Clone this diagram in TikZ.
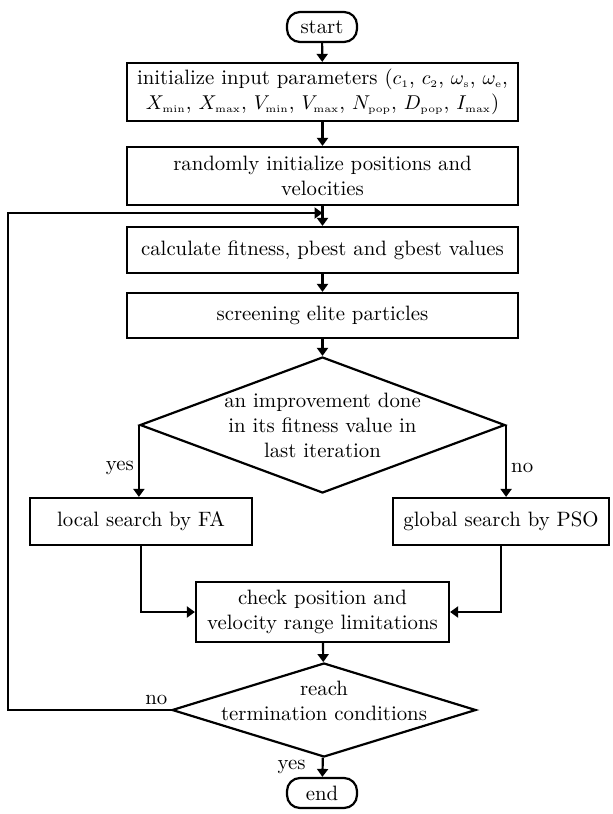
\documentclass[tikz,border=0pt]{standalone}
\usepackage{amsmath}
\usepackage{amssymb}
\usepackage{tikz}
\usetikzlibrary{shapes.geometric,arrows.meta}

% small upright subscripts as in the parameter list
\newcommand{\lowsub}[1]{_{\scriptscriptstyle\mathrm{#1}}}

\tikzset{
  box/.style={draw,line width=1.1pt,align=center,inner sep=2pt},
  term/.style={box,rounded corners=6.5pt,minimum width=35pt,minimum height=15pt},
  test/.style={draw,diamond,line width=1.1pt,align=center,inner sep=-20pt},
  flow/.style={line width=1.1pt,-{Triangle[length=4pt,width=5.5pt]}},
  tag/.style={inner sep=2pt}
}

\begin{document}
\begin{tikzpicture}[x=0.5pt,y=-0.5pt,font=\fontsize{10.4}{12.5}\selectfont]
\useasboundingbox (0,0) rectangle (612,814);

\node[term] (start) at (322,27) {start};
\node[box,minimum width=195.5pt,minimum height=29pt] (init) at (322.5,92)
  {initialize input parameters ($c\lowsub{1}$, $c\lowsub{2}$, $\omega\lowsub{s}$, $\omega\lowsub{e}$,\\
   $X\lowsub{min}$, $X\lowsub{max}$, $V\lowsub{min}$, $V\lowsub{max}$, $N\lowsub{pop}$, $D\lowsub{pop}$, $I\lowsub{max}$)};
\node[box,minimum width=195.5pt,minimum height=29pt] (rand) at (322.5,176)
  {randomly initialize positions and\\velocities};
\node[box,minimum width=195.5pt,minimum height=23pt] (fit) at (322.5,250)
  {calculate fitness, pbest and gbest values};
\node[box,minimum width=195.5pt,minimum height=22.5pt] (elite) at (322.5,315.5)
  {screening elite particles};
\node[test,minimum width=182.5pt,minimum height=68pt] (improve) at (322.5,425)
  {an improvement done\\in its fitness value in\\last iteration};
\node[box,minimum width=111pt,minimum height=23.5pt] (local) at (141,521.5)
  {local search by FA};
\node[box,minimum width=108pt,minimum height=23.5pt] (global) at (501,521.5)
  {global search by PSO};
\node[box,minimum width=126.5pt,minimum height=30pt] (check) at (322.5,612)
  {check position and\\velocity range limitations};
\node[test,minimum width=152pt,minimum height=47pt] (reach) at (324,710) {};
\node[align=center] (reachtext) at (324,701) {reach\\termination conditions};
\node[term] (stop) at (322,793) {end};

\coordinate (join) at (322.5,213);
\coordinate (back) at (8,710);

\draw[flow] (start) -- (init);
\draw[flow] (init) -- (rand);
\draw[flow] (rand) -- (fit);
\draw[flow] (reach.west) -- node[tag,pos=0.09,above]{no} (back) |- (join);
\draw[flow] (fit) -- (elite);
\draw[flow] (elite) -- (improve);
\draw[flow] (improve.west) -- node[tag,pos=0.6,left]{yes} (improve.west |- local.north);
\draw[flow] (improve.east) -- node[tag,pos=0.6,right]{no} (improve.east |- global.north);
\draw[flow] (local.south) |- (check.west);
\draw[flow] (global.south) |- (check.east);
\draw[flow] (check) -- (reach);
\draw[flow] (reach) -- node[tag,midway,left=6pt]{yes} (stop);
\end{tikzpicture}
\end{document}
